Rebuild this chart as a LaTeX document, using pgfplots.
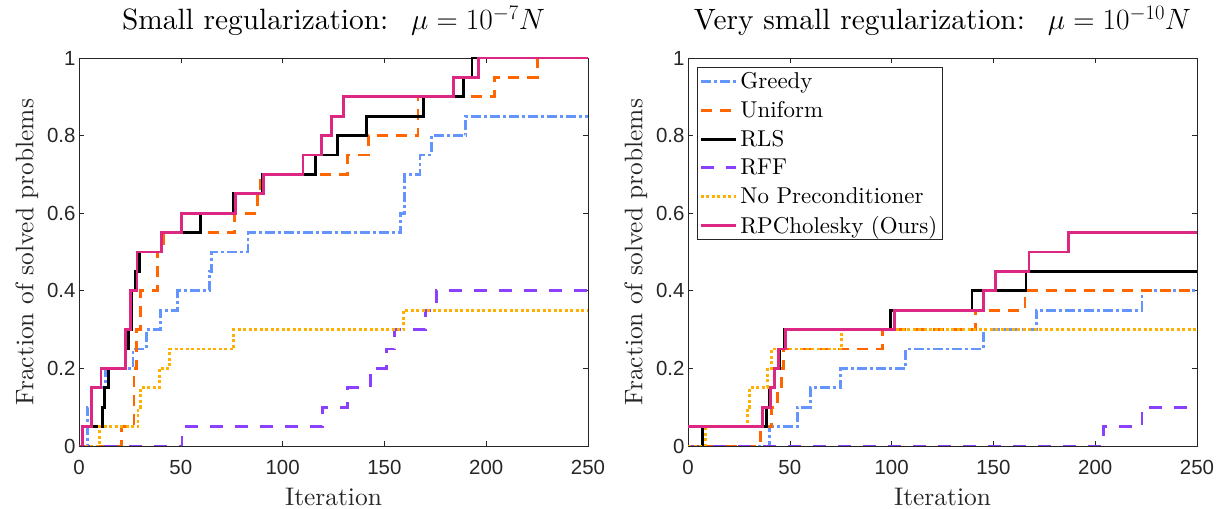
\RequirePackage{fix-cm}
\documentclass[border=0pt]{standalone}
\usepackage{fontspec}
\setmainfont{lmroman10-regular}[Extension=.otf, ItalicFont=lmroman10-italic, BoldFont=lmroman10-bold]
\usepackage{pgfplots}
\pgfplotsset{compat=1.18}
\newfontfamily\tickfont{Liberation Sans}
\definecolor{cGreedy}{RGB}{100,149,255}
\definecolor{cUniform}{RGB}{255,102,0}
\definecolor{cRFF}{RGB}{140,64,255}
\definecolor{cNoPre}{RGB}{255,176,0}
\definecolor{cRPC}{RGB}{220,40,130}
\definecolor{axgray}{RGB}{38,38,38}
\pgfplotsset{
  mystyle/.style={
    scale only axis, width=509bp, height=388bp,
    xmin=0, xmax=250, ymin=0, ymax=1,
    xtick={0,50,...,250}, ytick={0,0.2,0.4,0.6,0.8,1},
    tick align=inside, major tick length=5bp,
    axis line style={axgray, line width=0.6bp},
    every tick/.style={axgray, line width=0.6bp},
    /pgf/number format/assume math mode=true,
    ticklabel style={font=\tickfont\fontsize{20.5}{20.5}\selectfont, text=axgray},
    xticklabel style={yshift=-11bp},
    label style={font=\fontsize{25.5}{25.5}\selectfont, text=axgray},
    xlabel style={yshift=-6bp},
    ylabel style={yshift=2bp},
    title style={font=\fontsize{29.5}{29.5}\selectfont, inner sep=1bp, yshift=15bp},
    xlabel={Iteration},
    ylabel={Fraction of solved problems},
    every axis plot/.append style={const plot, line width=2.9bp, mark=none},
  },
  sGreedy/.style={cGreedy, dash pattern=on 10bp off 3bp on 3bp off 3bp},
  sUniform/.style={cUniform, dash pattern=on 11bp off 8bp},
  sRLS/.style={black, solid},
  sRFF/.style={cRFF, dash pattern=on 13bp off 12bp},
  sNoPre/.style={cNoPre, dash pattern=on 3bp off 2.5bp},
  sRPC/.style={cRPC, solid},
}
\begin{document}
\begin{tikzpicture}
\path (0bp,0bp) rectangle (1226bp,507bp);
\begin{axis}[mystyle, at={(79bp,61bp)}, anchor=south west,
  title={Small regularization: \ $\mu = 10^{-7}N$}]
\addplot[sGreedy] coordinates {(0,0) (4,0.1) (6,0.15) (13,0.2) (26.5,0.25) (33,0.3) (40,0.35) (48.5,0.4) (64,0.45) (65,0.5) (83,0.55) (158,0.6) (160,0.7) (167.5,0.75) (173,0.8) (190,0.85) (250,0.85)};
\addplot[sUniform] coordinates {(0,0) (21,0.05) (27,0.2) (28.3,0.3) (30,0.4) (38.5,0.5) (41.3,0.55) (76.5,0.6) (87.5,0.65) (89,0.7) (132,0.75) (142,0.8) (166.5,0.9) (204,0.95) (225,1) (250,1)};
\addplot[sRLS] coordinates {(0,0) (1.8,0.05) (11.5,0.1) (12.5,0.15) (14.5,0.2) (23,0.25) (24.5,0.3) (26,0.4) (27.5,0.45) (29.5,0.5) (40.5,0.55) (59.5,0.6) (76,0.65) (90,0.7) (116,0.75) (127,0.8) (141,0.85) (169,0.9) (189,0.95) (193,1) (250,1)};
\addplot[sRFF] coordinates {(0,0) (50.6,0.05) (119.5,0.1) (132,0.15) (143,0.2) (151,0.25) (155,0.3) (170,0.35) (175.5,0.4) (250,0.4)};
\addplot[sNoPre] coordinates {(0,0) (10,0.05) (29,0.1) (30,0.15) (39.5,0.2) (44.5,0.25) (76,0.3) (159.5,0.35) (250,0.35)};
\addplot[sRPC] coordinates {(0,0) (1.5,0.05) (6,0.15) (10.8,0.2) (23,0.3) (25.5,0.4) (28.5,0.5) (40.5,0.55) (50.5,0.6) (77,0.65) (90.5,0.7) (110,0.75) (119,0.8) (124,0.85) (130,0.9) (184,0.95) (196,1) (250,1)};
\end{axis}
\begin{axis}[mystyle, at={(688bp,61bp)}, anchor=south west,
  title={Very small regularization: \ $\mu = 10^{-10}N$},
  legend style={at={(rel axis cs:0.018,0.976)}, anchor=north west,
    font=\fontsize{23}{23}\selectfont, draw=axgray, line width=0.6bp,
    inner sep=2bp, row sep=5.2bp, nodes={inner sep=3bp}},
  legend cell align=left,
  legend image code/.code={\draw[#1] (0bp,0bp) -- (35bp,0bp);}]
\addplot[sGreedy] coordinates {(0,0) (40,0.05) (53.6,0.1) (60,0.15) (75,0.2) (107,0.25) (145,0.3) (171,0.35) (223,0.4) (250,0.4)};
\addlegendentry{Greedy}
\addplot[sUniform] coordinates {(0,0) (35.5,0.05) (41,0.1) (44,0.15) (46,0.2) (47,0.25) (95.5,0.3) (141,0.35) (165.5,0.4) (250,0.4)};
\addlegendentry{Uniform}
\addplot[sRLS] coordinates {(0,0) (7,0.05) (38.5,0.1) (40,0.15) (42.5,0.2) (45,0.25) (47.5,0.3) (99.5,0.35) (139.5,0.4) (166,0.45) (250,0.45)};
\addlegendentry{RLS}
\addplot[sRFF] coordinates {(0,0) (204,0.05) (223,0.1) (250,0.1)};
\addlegendentry{RFF}
\addplot[sNoPre] coordinates {(0,0) (8.5,0.05) (29,0.1) (30,0.15) (39,0.2) (41,0.25) (75.5,0.3) (250,0.3)};
\addlegendentry{No Preconditioner}
\addplot[sRPC] coordinates {(0,0.05) (36.5,0.1) (40.7,0.15) (42.5,0.2) (44.5,0.25) (48,0.3) (101.5,0.35) (145,0.4) (151,0.45) (167.5,0.5) (187,0.55) (250,0.55)};
\addlegendentry{RPCholesky (Ours)}
\end{axis}
\end{tikzpicture}
\end{document}
